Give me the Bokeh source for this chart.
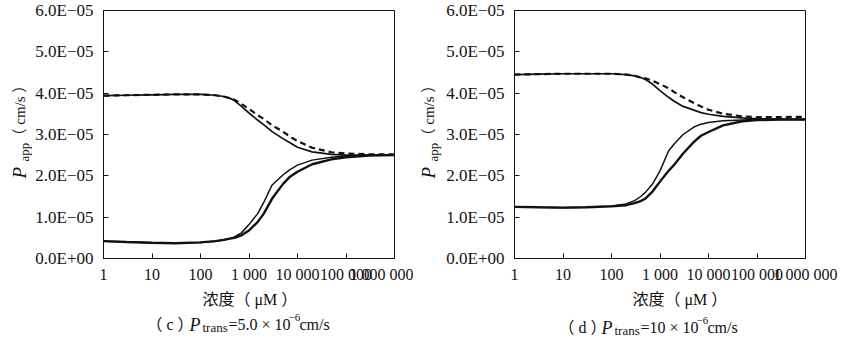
from math import pi
from bokeh.plotting import figure
from bokeh.layouts import row, column
from bokeh.models import Range1d, FixedTicker, CustomJSTickFormatter, Label
from bokeh.embed import file_html
from bokeh.resources import INLINE

# ---------------- data ----------------
# concentration (uM)
conc = [1, 3, 10, 30, 100, 200, 300, 400, 500, 700, 1000, 1500, 2000, 3000,
        5000, 7000, 10000, 20000, 50000, 100000, 300000, 1000000]

# Papp values in units of 1e-5 cm/s
# panel (c) Ptrans = 5.0e-6 cm/s
c_upper_solid = [3.94, 3.95, 3.96, 3.97, 3.97, 3.95, 3.92, 3.88, 3.82, 3.68, 3.52, 3.35, 3.24, 3.07,
                 2.90, 2.80, 2.69, 2.58, 2.52, 2.50, 2.50, 2.50]
c_upper_dashed = [3.94, 3.95, 3.96, 3.97, 3.97, 3.95, 3.92, 3.88, 3.84, 3.74, 3.62, 3.47, 3.38, 3.22,
                  3.07, 2.95, 2.84, 2.68, 2.57, 2.54, 2.52, 2.52]
c_lower_thin = [0.42, 0.40, 0.38, 0.37, 0.39, 0.42, 0.45, 0.48, 0.52, 0.62, 0.82, 1.08, 1.35, 1.78,
                2.02, 2.15, 2.26, 2.38, 2.45, 2.48, 2.50, 2.50]
c_lower_thick = [0.42, 0.40, 0.38, 0.37, 0.39, 0.42, 0.45, 0.48, 0.50, 0.56, 0.68, 0.88, 1.08, 1.45,
                 1.80, 1.98, 2.10, 2.28, 2.40, 2.45, 2.49, 2.50]

# panel (d) Ptrans = 10e-6 cm/s
d_upper_solid = [4.45, 4.46, 4.47, 4.47, 4.47, 4.45, 4.42, 4.38, 4.33, 4.22, 4.06, 3.90, 3.80, 3.68,
                 3.59, 3.53, 3.49, 3.44, 3.40, 3.38, 3.37, 3.37]
d_upper_dashed = [4.45, 4.46, 4.47, 4.47, 4.47, 4.45, 4.42, 4.38, 4.36, 4.30, 4.22, 4.12, 4.02, 3.90,
                  3.76, 3.68, 3.60, 3.50, 3.44, 3.42, 3.42, 3.43]
d_lower_thin = [1.25, 1.24, 1.23, 1.24, 1.27, 1.32, 1.40, 1.50, 1.60, 1.80, 2.12, 2.60, 2.78, 3.00,
                3.18, 3.25, 3.29, 3.33, 3.35, 3.36, 3.36, 3.36]
d_lower_thick = [1.25, 1.24, 1.23, 1.24, 1.26, 1.29, 1.34, 1.39, 1.45, 1.62, 1.86, 2.12, 2.28, 2.54,
                 2.82, 2.97, 3.06, 3.22, 3.32, 3.35, 3.36, 3.36]

x_ticks = [1, 10, 100, 1000, 10000, 100000, 1000000]
x_tick_labels = ["1", "10", "100", "1 000", "10 000", "100 000", "1 000 000"]
y_ticks = [0, 1, 2, 3, 4, 5, 6]
y_tick_labels = ["0.0E+00", "1.0E\u221205", "2.0E\u221205", "3.0E\u221205",
                 "4.0E\u221205", "5.0E\u221205", "6.0E\u221205"]

x_title = "浓度（ μM ）"
y_title_main = "P"
y_title_sub = "app"
y_title_unit = "（ cm/s ）"

SERIF = "'Liberation Serif', 'Noto Sans CJK SC'"
NUM_FONT = "'Liberation Serif'"
INK = "#111111"

TOP, FRAME_H, AXIS_B = 10, 248, 27
FRAME_BOTTOM = TOP + FRAME_H          # 258 (window y of the frame's bottom edge)
MAIN_H = TOP + FRAME_H + AXIS_B       # 285
TEXT_H = 342 - MAIN_H                 # 57


def tick_formatter(tick_values, tick_texts):
    return CustomJSTickFormatter(args=dict(tv=tick_values, tl=tick_texts), code="""
        for (let i = 0; i < tv.length; i++) {
            if (Math.abs(tv[i] - tick) <= 1e-9 * Math.max(1, Math.abs(tick))) return tl[i];
        }
        return "";
    """)


def text_fig(w, h):
    f = figure(width=w, height=h, min_border=0, x_axis_type=None, y_axis_type=None,
               x_range=Range1d(0, 1), y_range=Range1d(0, 1),
               output_backend="svg", toolbar_location=None,
               background_fill_color="white", border_fill_color="white")
    f.outline_line_color = None
    f.grid.visible = False
    return f


def add_text(f, x, y, text, size, italic=False, angle=0.0):
    f.add_layout(Label(x=x, y=y, x_units="screen", y_units="screen", text=text,
                       text_font=SERIF, text_font_size=f"{size}px",
                       text_font_style="italic" if italic else "normal",
                       text_color=INK, angle=angle, text_align="left",
                       text_baseline="alphabetic"))


def main_fig(border_left, border_right, curves):
    p = figure(x_axis_type="log", frame_width=291, frame_height=FRAME_H,
               min_border_left=border_left, min_border_right=border_right,
               min_border_top=TOP, min_border_bottom=AXIS_B,
               x_range=Range1d(1, 1000000), y_range=Range1d(0, 6),
               output_backend="svg", toolbar_location=None,
               background_fill_color="white", border_fill_color="white")
    p.grid.visible = False
    p.outline_line_color = INK
    p.outline_line_width = 1
    for ax in (p.xaxis[0], p.yaxis[0]):
        ax.axis_line_color = INK
        ax.major_tick_line_color = INK
        ax.major_tick_in = 5
        ax.major_tick_out = 0
        ax.minor_tick_line_color = None
        ax.major_label_text_font = NUM_FONT
        ax.major_label_text_color = INK
    p.xaxis[0].ticker = FixedTicker(ticks=x_ticks)
    p.xaxis[0].formatter = tick_formatter(x_ticks, x_tick_labels)
    p.xaxis[0].major_label_text_font_size = "16px"
    p.xaxis[0].major_label_standoff = 7
    p.yaxis[0].ticker = FixedTicker(ticks=y_ticks)
    p.yaxis[0].formatter = tick_formatter(y_ticks, y_tick_labels)
    p.yaxis[0].major_label_text_font_size = "17px"
    p.yaxis[0].major_label_standoff = 10
    for ys, dash, width in curves:
        p.line(conc, ys, line_color=INK, line_width=width, line_dash=dash)
    return p


def ylabel_fig(width, base_x):
    # this figure's frame is aligned with the neighbouring plot frame (window y 10..258)
    f = text_fig(width, MAIN_H)
    add_text(f, base_x, FRAME_BOTTOM - 178, y_title_main, 19, italic=True, angle=pi / 2)
    add_text(f, base_x + 5, FRAME_BOTTOM - 161, y_title_sub, 13, angle=pi / 2)
    add_text(f, base_x, FRAME_BOTTOM - 143, y_title_unit, 15, angle=pi / 2)
    return f


def caption_fig(w, xtitle_x, parts, base_y):
    f = text_fig(w, TEXT_H)
    add_text(f, xtitle_x, TEXT_H - (299 - MAIN_H), x_title, 16)
    for x, dy, text, size, italic in parts:
        add_text(f, x, base_y + dy, text, size, italic)
    return f


curves_c = [(c_upper_solid, "solid", 1.7), (c_upper_dashed, "6 4", 2.2),
            (c_lower_thin, "solid", 1.5), (c_lower_thick, "solid", 2.4)]
curves_d = [(d_upper_solid, "solid", 1.7), (d_upper_dashed, "6 4", 2.2),
            (d_lower_thin, "solid", 1.5), (d_lower_thick, "solid", 2.4)]

cap_c = [(146, 0, "（ c ）", 16, False), (189, 0, "P", 18, True), (202, -3, "trans", 13, False),
         (228, 0, "=5.0 × 10", 16, False), (288, 7, "\u22126", 11, False),
         (299, 0, "cm/s", 16, False)]
cap_d = [(145, 0, "（ d ）", 16, False), (188, 0, "P", 18, True), (201, -3, "trans", 13, False),
         (227, 0, "=10 × 10", 16, False), (283, 7, "\u22126", 11, False),
         (294, 0, "cm/s", 16, False)]

# panel (c): occupies window x 0..413, plot frame at x 103..394
YLAB_C = 32
ylab_c = ylabel_fig(YLAB_C, 19)
main_c = main_fig(103 - YLAB_C, 19, curves_c)
cap_fig_c = caption_fig(413, 202, cap_c, TEXT_H - (324 - MAIN_H))

# panel (d): occupies window x 413..846, plot frame at x 514..805
YLAB_D = 30
ylab_d = ylabel_fig(YLAB_D, 15)
main_d = main_fig(101 - YLAB_D, 41, curves_d)
cap_fig_d = caption_fig(433, 632 - 413, cap_d, TEXT_H - (327 - MAIN_H))

layout = row(
    column(row(ylab_c, main_c, spacing=0), cap_fig_c, spacing=0),
    column(row(ylab_d, main_d, spacing=0), cap_fig_d, spacing=0),
    spacing=0,
)
open("out.html", "w").write(file_html(layout, INLINE))
